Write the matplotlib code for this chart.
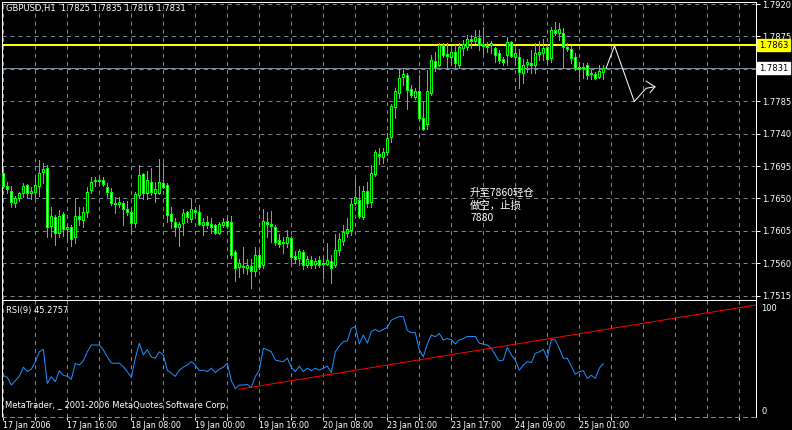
import matplotlib
matplotlib.use('Agg')
import matplotlib.pyplot as plt
import numpy as np

plt.rcParams['font.family'] = ['DejaVu Sans']
plt.rcParams['lines.scale_dashes'] = False

# ---------------- data (GBPUSD H1, one value per bar) ----------------
opens = [1.7685,1.7667,1.7660,1.7644,1.7651,1.7658,1.7669,1.7658,1.7659,1.7667,
         1.7687,1.7692,1.7612,1.7624,1.7602,1.7628,1.7608,1.7610,1.7596,1.7626,
         1.7620,1.7631,1.7662,1.7674,1.7676,1.7676,1.7666,1.7659,1.7644,1.7642,
         1.7644,1.7635,1.7631,1.7616,1.7655,1.7684,1.7658,1.7673,1.7658,1.7658,
         1.7671,1.7669,1.7628,1.7617,1.7610,1.7616,1.7631,1.7621,1.7634,1.7631,
         1.7613,1.7617,1.7615,1.7613,1.7602,1.7613,1.7619,1.7617,1.7576,1.7555,
         1.7556,1.7553,1.7556,1.7549,1.7571,1.7558,1.7617,1.7615,1.7610,1.7592,
         1.7588,1.7588,1.7595,1.7570,1.7567,1.7576,1.7558,1.7565,1.7559,1.7565,
         1.7560,1.7559,1.7563,1.7558,1.7578,1.7591,1.7602,1.7606,1.7644,1.7648,
         1.7624,1.7660,1.7645,1.7684,1.7712,1.7708,1.7715,1.7735,1.7777,1.7796,
         1.7819,1.7821,1.7802,1.7791,1.7799,1.7762,1.7753,1.7796,1.7841,1.7835,
         1.7863,1.7851,1.7846,1.7853,1.7835,1.7859,1.7860,1.7871,1.7869,1.7873,
         1.7865,1.7863,1.7863,1.7859,1.7852,1.7844,1.7849,1.7867,1.7846,1.7846,
         1.7824,1.7837,1.7838,1.7835,1.7851,1.7852,1.7860,1.7845,1.7884,1.7880,
         1.7880,1.7860,1.7858,1.7846,1.7833,1.7831,1.7835,1.7823,1.7823,1.7819,
         1.7825]
highs = [1.7690,1.7673,1.7667,1.7653,1.7659,1.7671,1.7670,1.7666,1.7678,1.7703,
         1.7699,1.7696,1.7638,1.7627,1.7634,1.7631,1.7613,1.7613,1.7649,1.7638,
         1.7638,1.7666,1.7680,1.7680,1.7680,1.7680,1.7671,1.7665,1.7652,1.7652,
         1.7646,1.7646,1.7638,1.7659,1.7696,1.7685,1.7688,1.7692,1.7673,1.7705,
         1.7699,1.7671,1.7638,1.7623,1.7617,1.7635,1.7633,1.7649,1.7638,1.7641,
         1.7623,1.7626,1.7623,1.7615,1.7617,1.7623,1.7627,1.7626,1.7578,1.7566,
         1.7583,1.7566,1.7566,1.7583,1.7577,1.7635,1.7631,1.7633,1.7613,1.7601,
         1.7596,1.7606,1.7598,1.7577,1.7580,1.7578,1.7570,1.7570,1.7567,1.7570,
         1.7569,1.7588,1.7571,1.7601,1.7602,1.7613,1.7623,1.7649,1.7678,1.7667,
         1.7667,1.7673,1.7696,1.7717,1.7720,1.7720,1.7741,1.7781,1.7803,1.7830,
         1.7830,1.7824,1.7808,1.7803,1.7821,1.7784,1.7828,1.7849,1.7853,1.7866,
         1.7866,1.7866,1.7859,1.7863,1.7866,1.7870,1.7877,1.7877,1.7884,1.7884,
         1.7888,1.7867,1.7869,1.7860,1.7856,1.7846,1.7874,1.7869,1.7858,1.7858,
         1.7844,1.7844,1.7856,1.7866,1.7869,1.7871,1.7863,1.7888,1.7895,1.7894,
         1.7887,1.7866,1.7862,1.7852,1.7840,1.7838,1.7838,1.7828,1.7826,1.7835,
         1.7835]
lows = [1.7665,1.7658,1.7638,1.7638,1.7646,1.7652,1.7652,1.7649,1.7652,1.7653,
        1.7671,1.7596,1.7596,1.7585,1.7596,1.7598,1.7592,1.7584,1.7588,1.7613,
        1.7610,1.7624,1.7658,1.7667,1.7669,1.7667,1.7652,1.7641,1.7630,1.7638,
        1.7613,1.7627,1.7602,1.7610,1.7651,1.7649,1.7649,1.7655,1.7645,1.7656,
        1.7665,1.7617,1.7609,1.7598,1.7584,1.7599,1.7617,1.7617,1.7627,1.7613,
        1.7599,1.7609,1.7602,1.7601,1.7601,1.7610,1.7609,1.7567,1.7535,1.7541,
        1.7546,1.7545,1.7526,1.7542,1.7552,1.7553,1.7596,1.7590,1.7585,1.7583,
        1.7574,1.7583,1.7560,1.7560,1.7558,1.7552,1.7555,1.7553,1.7553,1.7555,
        1.7540,1.7558,1.7533,1.7555,1.7571,1.7585,1.7596,1.7599,1.7641,1.7623,
        1.7621,1.7638,1.7638,1.7681,1.7698,1.7699,1.7710,1.7728,1.7762,1.7790,
        1.7808,1.7774,1.7791,1.7788,1.7759,1.7745,1.7746,1.7794,1.7827,1.7834,
        1.7846,1.7830,1.7835,1.7833,1.7833,1.7849,1.7856,1.7859,1.7866,1.7856,
        1.7852,1.7853,1.7852,1.7840,1.7838,1.7835,1.7835,1.7846,1.7835,1.7803,
        1.7810,1.7826,1.7824,1.7824,1.7842,1.7842,1.7838,1.7840,1.7877,1.7870,
        1.7831,1.7855,1.7838,1.7828,1.7816,1.7817,1.7816,1.7816,1.7816,1.7817,
        1.7816]
closes = [1.7667,1.7663,1.7645,1.7651,1.7658,1.7667,1.7658,1.7660,1.7669,1.7685,
          1.7691,1.7610,1.7626,1.7602,1.7626,1.7608,1.7610,1.7594,1.7626,1.7621,
          1.7631,1.7659,1.7673,1.7676,1.7674,1.7670,1.7659,1.7644,1.7642,1.7645,
          1.7635,1.7631,1.7616,1.7656,1.7683,1.7658,1.7676,1.7659,1.7663,1.7673,
          1.7666,1.7627,1.7619,1.7610,1.7615,1.7630,1.7624,1.7635,1.7631,1.7615,
          1.7617,1.7613,1.7610,1.7602,1.7615,1.7617,1.7612,1.7571,1.7553,1.7560,
          1.7555,1.7558,1.7549,1.7571,1.7555,1.7619,1.7615,1.7612,1.7590,1.7587,
          1.7590,1.7596,1.7569,1.7566,1.7577,1.7558,1.7566,1.7558,1.7563,1.7558,
          1.7559,1.7565,1.7553,1.7578,1.7594,1.7603,1.7608,1.7642,1.7652,1.7626,
          1.7660,1.7644,1.7685,1.7715,1.7709,1.7715,1.7734,1.7778,1.7799,1.7817,
          1.7823,1.7801,1.7794,1.7799,1.7762,1.7746,1.7799,1.7842,1.7833,1.7863,
          1.7849,1.7848,1.7853,1.7838,1.7860,1.7865,1.7871,1.7869,1.7874,1.7863,
          1.7862,1.7860,1.7866,1.7849,1.7842,1.7840,1.7867,1.7848,1.7852,1.7826,
          1.7835,1.7840,1.7835,1.7852,1.7853,1.7859,1.7844,1.7884,1.7880,1.7885,
          1.7860,1.7858,1.7845,1.7831,1.7830,1.7833,1.7821,1.7824,1.7817,1.7827,
          1.7831]
rsi = [34,32,24.5,28.7,33,42,37.6,40,47,57,
       59.5,26,32.7,27.8,38.5,34,33,30,45.7,44,
       48,57,63.7,63.7,63.7,59,52,46,45.7,46,
       42.5,37.6,32,50.7,65.4,54,59,52,50.7,57,
       54,39,36,33,39,42,44,47.4,44,38.5,
       39,37.6,41,36.6,40,42,46,28.7,21,24.5,
       24.5,25,22,32.7,39,60.5,59,57,49,48,
       47.4,50.7,42,37.6,43,37.6,41,38.5,41,39,
       41,43,36.6,57,62.7,67,67.6,80,81.7,64.7,
       73.5,65.4,76.8,79,76.8,79,81,88,90,91.5,
       91.5,78,75.8,75.8,59,52,64.7,73.5,71.9,75,
       68.6,70,69,64.7,68.6,70,72,72,72,65.4,
       64.7,63.7,60.5,54,48,49,61.5,54,49,39,
       44,47.4,46.4,55.5,57,59.5,50.7,69,68.6,60.5,
       50.7,50.7,43,35,37.6,38.5,31,34,31,41,
       45.2757]

price_ticks = [1.7515, 1.7560, 1.7605, 1.7650, 1.7695, 1.7740, 1.7785, 1.7830, 1.7875, 1.7920]
price_labels = ['1.7515', '1.7560', '1.7605', '1.7650', '1.7695', '1.7740', '1.7785', '', '1.7875', '1.7920']
time_labels = ['17 Jan 2006', '17 Jan 16:00', '18 Jan 08:00', '19 Jan 00:00', '19 Jan 16:00',
               '20 Jan 08:00', '23 Jan 01:00', '23 Jan 17:00', '24 Jan 09:00', '25 Jan 01:00']
sell_level = 1.7863
bid_price = 1.7831
# hand-drawn forecast path (bar index, price)
path_x = [150.7, 152.8, 157.75, 160.7, 162.9]
path_y = [1.7831, 1.7862, 1.77845, 1.7803, 1.7805]
head_x = [160.7, 162.9, 161.7]
head_y = [1.7813, 1.7805, 1.7797]
# RSI trend line anchors (bar index, RSI)
trend_x = [58.9, 188.2]
trend_y = [20.3, 103.0]

# ---------------- layout ----------------
W, H = 792, 430
fig = plt.figure(figsize=(W / 100, H / 100), dpi=100, facecolor='black')


def box(x0, y0, x1, y1):
    return [x0 / W, 1 - y1 / H, (x1 - x0) / W, (y1 - y0) / H]


ax = fig.add_axes(box(2, 2, 756, 299), facecolor='black')
rx = fig.add_axes(box(2, 300, 756, 417), facecolor='black', sharex=ax)

n = len(opens)
xs = np.arange(n)
ax.set_xlim(-0.325, 188.175)
ax.set_ylim(1.75103, 1.79228)
rx.set_ylim(-6.86, 107.8)

GRID = '#778899'
dash = (0, (2.9, 2.9))
LW = 0.72
PX = (1.79228 - 1.75103) / 297.0  # price span of one pixel

# grid
for p in price_ticks:
    ax.axhline(p, color=GRID, lw=LW, ls=dash, zorder=1)
for g in range(0, 189, 8):
    ax.axvline(g, color=GRID, lw=LW, ls=dash, zorder=1)
    rx.axvline(g, color=GRID, lw=LW, ls=dash, zorder=1)

# horizontal lines (1px bands)
ax.axhspan(sell_level - PX * 0.6, sell_level + PX * 0.6, color='#ffff00', lw=0, zorder=2)
ax.axhline(bid_price, color=GRID, lw=LW, zorder=2, antialiased=False)

# candles
o = np.array(opens); h = np.array(highs); l = np.array(lows); c = np.array(closes)
ax.vlines(xs, l, h, color='#00ff00', lw=LW, zorder=3, antialiased=False)
bottoms = np.minimum(o, c)
heights = np.maximum(np.abs(c - o), 0.00002)
faces = ['black' if cc > oo else 'white' for oo, cc in zip(o, c)]
ax.bar(xs, heights, bottom=bottoms, width=0.5, color=faces, edgecolor='#00ff00',
       linewidth=LW, zorder=4, antialiased=False)

# forecast path
ax.plot(path_x, path_y, color='white', lw=LW, zorder=5)
ax.plot(head_x, head_y, color='white', lw=LW, zorder=5)

# annotation text
cjk = ['Noto Sans CJK SC', 'DejaVu Sans']
ax.text(116.7, 1.7658, '升至7860轻仓', color='white', fontsize=7.5, family=cjk, va='center', ha='left', zorder=6)
ax.text(116.7, 1.7640, '做空，止损', color='white', fontsize=7.5, family=cjk, va='center', ha='left', zorder=6)
ax.text(116.7, 1.7623, '7880', color='white', fontsize=7.5, family=cjk, va='center', ha='left', zorder=6)

# RSI
rx.plot(xs, rsi, color='#1e90ff', lw=LW, zorder=3)
rx.plot(trend_x, trend_y, color='#ff0000', lw=LW, zorder=4)

# axes styling
for a in (ax, rx):
    for s in ('left', 'right', 'top'):
        a.spines[s].set_color('white')
        a.spines[s].set_linewidth(LW)
ax.spines['bottom'].set_visible(False)
rx.spines['bottom'].set_color(GRID)
rx.spines['bottom'].set_linestyle(dash)
rx.spines['bottom'].set_linewidth(LW)

ax.yaxis.set_ticks_position('right')
ax.set_yticks(price_ticks)
ax.set_yticklabels(price_labels)
ax.tick_params(axis='y', direction='out', length=3, width=LW, colors='white', labelsize=6, pad=1.5)
ax.tick_params(axis='x', bottom=False, labelbottom=False)

rx.yaxis.set_ticks_position('right')
rx.set_yticks([0, 100])
rx.set_yticklabels(['0', '100'])
rx.tick_params(axis='y', length=0, colors='white', labelsize=6, pad=4)

rx.set_xticks(list(range(0, 16 * len(time_labels), 16)))
rx.set_xticklabels(time_labels)
rx.set_xticks(list(range(8, 189, 16)), minor=True)
rx.tick_params(axis='x', which='major', direction='out', length=2.5, width=LW, colors='white',
               labelsize=5.8, pad=0.3)
rx.tick_params(axis='x', which='minor', direction='out', length=2, width=LW, colors='white')
for lbl in rx.get_xticklabels():
    lbl.set_ha('left')

# price boxes
ax.text(1.004, sell_level, '1.7863', transform=ax.get_yaxis_transform(), color='black', fontsize=6,
        va='center', ha='left', clip_on=False, zorder=10,
        bbox=dict(boxstyle='square,pad=0.22', fc='#ffff00', ec='#ffff00'))
ax.text(1.004, bid_price, '1.7831', transform=ax.get_yaxis_transform(), color='black', fontsize=6,
        va='center', ha='left', clip_on=False, zorder=10,
        bbox=dict(boxstyle='square,pad=0.22', fc='white', ec='white'))

# header texts
fig.text(6 / W, 1 - 9 / H, 'GBPUSD,H1  1.7825 1.7835 1.7816 1.7831', color='white', fontsize=6, va='center', ha='left')
fig.text(6 / W, 1 - 311 / H, 'RSI(9) 45.2757', color='white', fontsize=6, va='center', ha='left')
fig.text(5 / W, 1 - 405 / H, 'MetaTrader, _ 2001-2006 MetaQuotes Software Corp.', color='white', fontsize=6,
         va='center', ha='left')

fig.savefig('out.png', dpi=100, facecolor='black')
